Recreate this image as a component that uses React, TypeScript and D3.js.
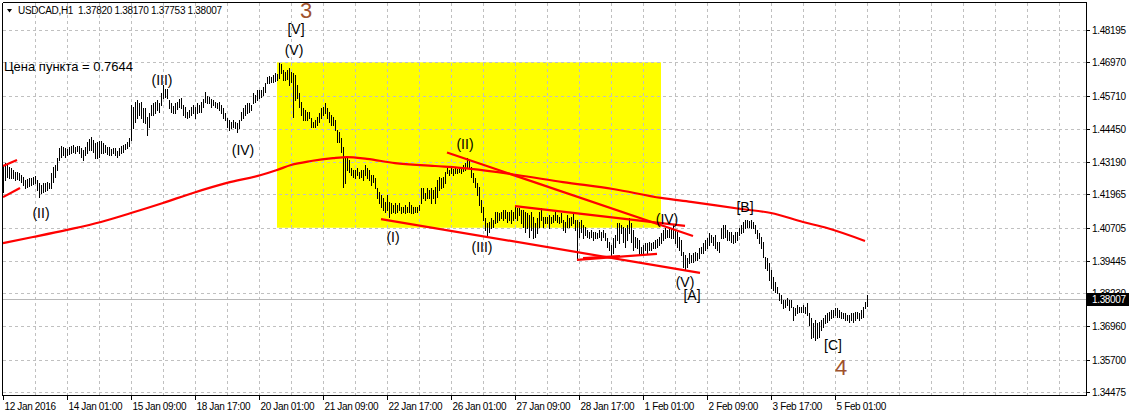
import React from 'react';
import * as d3 from 'd3';

const W = 1129;
const H = 416;

// Right price scale labels (top to bottom)
const priceTicks = [1.48195, 1.4697, 1.4571, 1.4445, 1.4319, 1.41965, 1.40705, 1.39445, 1.3823, 1.3696, 1.357, 1.34475];
const priceTickText = ['1.48195', '1.46970', '1.45710', '1.44450', '1.43190', '1.41965', '1.40705', '1.39445', '1.38230', '1.36960', '1.35700', '1.34475'];

// Time axis labels, one every 32 hourly bars
const timeLabels = ['12 Jan 2016', '14 Jan 01:00', '15 Jan 09:00', '18 Jan 17:00', '20 Jan 01:00', '21 Jan 09:00', '22 Jan 17:00', '26 Jan 01:00', '27 Jan 09:00', '28 Jan 17:00', '1 Feb 01:00', '2 Feb 09:00', '3 Feb 17:00', '5 Feb 01:00'];

const symbol = 'USDCAD,H1';
const lastOHLC = ['1.37820', '1.38170', '1.37753', '1.38007'];
const lastClose = 1.38007;
const pointValueText = 'Цена пункта = 0.7644';

// H1 bar highs
const highs = [
  1.4308, 1.4315, 1.4308, 1.4300, 1.4296, 1.4289, 1.4281, 1.4281, 1.4278, 1.4270,
  1.4262, 1.4251, 1.4255, 1.4259, 1.4259, 1.4262, 1.4266, 1.4251, 1.4240, 1.4232,
  1.4240, 1.4240, 1.4243, 1.4240, 1.4278, 1.4300, 1.4308, 1.4334, 1.4372, 1.4380,
  1.4376, 1.4372, 1.4368, 1.4376, 1.4380, 1.4384, 1.4376, 1.4380, 1.4380, 1.4372,
  1.4365, 1.4376, 1.4395, 1.4406, 1.4414, 1.4403, 1.4391, 1.4395, 1.4399, 1.4399,
  1.4391, 1.4384, 1.4376, 1.4376, 1.4368, 1.4372, 1.4372, 1.4361, 1.4372, 1.4380,
  1.4384, 1.4387, 1.4395, 1.4410, 1.4535, 1.4528, 1.4547, 1.4554, 1.4543, 1.4547,
  1.4524, 1.4524, 1.4490, 1.4505, 1.4535, 1.4543, 1.4547, 1.4554, 1.4543, 1.4581,
  1.4611, 1.4596, 1.4596, 1.4554, 1.4543, 1.4531, 1.4543, 1.4547, 1.4558, 1.4562,
  1.4535, 1.4528, 1.4509, 1.4516, 1.4528, 1.4535, 1.4528, 1.4543, 1.4535, 1.4547,
  1.4558, 1.4585, 1.4569, 1.4566, 1.4558, 1.4554, 1.4547, 1.4543, 1.4547, 1.4535,
  1.4524, 1.4505, 1.4486, 1.4478, 1.4471, 1.4478, 1.4471, 1.4467, 1.4478, 1.4509,
  1.4524, 1.4535, 1.4543, 1.4543, 1.4535, 1.4581, 1.4573, 1.4592, 1.4592, 1.4592,
  1.4603, 1.4619, 1.4641, 1.4645, 1.4641, 1.4649, 1.4657, 1.4653, 1.4694, 1.4691,
  1.4668, 1.4660, 1.4668, 1.4675, 1.4660, 1.4657, 1.4649, 1.4611, 1.4581, 1.4547,
  1.4524, 1.4516, 1.4509, 1.4509, 1.4486, 1.4471, 1.4478, 1.4490, 1.4505, 1.4524,
  1.4528, 1.4543, 1.4524, 1.4509, 1.4497, 1.4490, 1.4478, 1.4441, 1.4433, 1.4410,
  1.4376, 1.4338, 1.4334, 1.4327, 1.4296, 1.4289, 1.4289, 1.4296, 1.4281, 1.4289,
  1.4289, 1.4308, 1.4296, 1.4289, 1.4270, 1.4270, 1.4259, 1.4221, 1.4206, 1.4194,
  1.4183, 1.4168, 1.4194, 1.4168, 1.4164, 1.4156, 1.4164, 1.4156, 1.4164, 1.4149,
  1.4149, 1.4156, 1.4149, 1.4168, 1.4156, 1.4149, 1.4149, 1.4149, 1.4156, 1.4221,
  1.4221, 1.4202, 1.4221, 1.4213, 1.4221, 1.4213, 1.4224, 1.4251, 1.4262, 1.4259,
  1.4262, 1.4281, 1.4296, 1.4289, 1.4296, 1.4293, 1.4296, 1.4293, 1.4300, 1.4300,
  1.4308, 1.4315, 1.4334, 1.4327, 1.4300, 1.4278, 1.4259, 1.4240, 1.4224, 1.4175,
  1.4149, 1.4107, 1.4088, 1.4092, 1.4107, 1.4099, 1.4130, 1.4130, 1.4126, 1.4130,
  1.4137, 1.4137, 1.4130, 1.4130, 1.4137, 1.4130, 1.4149, 1.4145, 1.4145, 1.4137,
  1.4137, 1.4130, 1.4126, 1.4118, 1.4130, 1.4111, 1.4088, 1.4107, 1.4130, 1.4145,
  1.4111, 1.4111, 1.4111, 1.4118, 1.4111, 1.4118, 1.4130, 1.4118, 1.4111, 1.4126,
  1.4099, 1.4092, 1.4118, 1.4107, 1.4111, 1.4126, 1.4099, 1.4099, 1.4092, 1.4099,
  1.4080, 1.4073, 1.4062, 1.4054, 1.4062, 1.4054, 1.4054, 1.4050, 1.4062, 1.4054,
  1.4062, 1.4050, 1.4031, 1.4016, 1.4005, 1.4031, 1.4043, 1.4088, 1.4088, 1.4080,
  1.4073, 1.4069, 1.4080, 1.4107, 1.4088, 1.4062, 1.4035, 1.4031, 1.4024, 1.3997,
  1.4005, 1.4012, 1.4012, 1.4016, 1.4012, 1.4016, 1.4024, 1.4027, 1.4035, 1.4050,
  1.4062, 1.4069, 1.4062, 1.4073, 1.4069, 1.4080, 1.4062, 1.4054, 1.4035, 1.4024,
  1.3978, 1.3967, 1.3955, 1.3974, 1.3967, 1.3974, 1.3978, 1.3974, 1.3993, 1.3997,
  1.4012, 1.4024, 1.4031, 1.4050, 1.4043, 1.4035, 1.4043, 1.4016, 1.4016, 1.4069,
  1.4080, 1.4080, 1.4062, 1.4054, 1.4054, 1.4043, 1.4054, 1.4054, 1.4069, 1.4080,
  1.4092, 1.4099, 1.4099, 1.4096, 1.4099, 1.4092, 1.4080, 1.4062, 1.4050, 1.4035,
  1.4016, 1.3959, 1.3955, 1.3936, 1.3910, 1.3883, 1.3864, 1.3845, 1.3823, 1.3815,
  1.3796, 1.3796, 1.3804, 1.3796, 1.3796, 1.3770, 1.3766, 1.3777, 1.3770, 1.3770,
  1.3777, 1.3770, 1.3785, 1.3747, 1.3728, 1.3709, 1.3720, 1.3709, 1.3713, 1.3720,
  1.3728, 1.3739, 1.3747, 1.3751, 1.3758, 1.3758, 1.3766, 1.3766, 1.3758, 1.3751,
  1.3747, 1.3747, 1.3739, 1.3739, 1.3747, 1.3747, 1.3751, 1.3751, 1.3747, 1.3758,
  1.3770, 1.3790, 1.3817,
];

// H1 bar lows
const lows = [
  1.4206, 1.4251, 1.4262, 1.4259, 1.4259, 1.4259, 1.4251, 1.4255, 1.4251, 1.4243,
  1.4232, 1.4221, 1.4224, 1.4228, 1.4232, 1.4236, 1.4240, 1.4213, 1.4187, 1.4202,
  1.4206, 1.4209, 1.4213, 1.4221, 1.4221, 1.4243, 1.4262, 1.4289, 1.4327, 1.4338,
  1.4346, 1.4338, 1.4346, 1.4350, 1.4353, 1.4357, 1.4353, 1.4361, 1.4353, 1.4338,
  1.4327, 1.4346, 1.4353, 1.4365, 1.4365, 1.4357, 1.4334, 1.4334, 1.4338, 1.4353,
  1.4353, 1.4357, 1.4350, 1.4346, 1.4346, 1.4353, 1.4346, 1.4338, 1.4346, 1.4353,
  1.4357, 1.4368, 1.4372, 1.4380, 1.4403, 1.4448, 1.4471, 1.4486, 1.4497, 1.4486,
  1.4471, 1.4467, 1.4422, 1.4452, 1.4497, 1.4497, 1.4505, 1.4516, 1.4509, 1.4535,
  1.4562, 1.4566, 1.4562, 1.4524, 1.4509, 1.4505, 1.4505, 1.4520, 1.4528, 1.4524,
  1.4497, 1.4490, 1.4486, 1.4490, 1.4497, 1.4505, 1.4486, 1.4505, 1.4509, 1.4509,
  1.4528, 1.4547, 1.4543, 1.4543, 1.4528, 1.4535, 1.4528, 1.4524, 1.4516, 1.4505,
  1.4486, 1.4478, 1.4452, 1.4441, 1.4448, 1.4452, 1.4448, 1.4433, 1.4448, 1.4478,
  1.4486, 1.4497, 1.4505, 1.4509, 1.4516, 1.4543, 1.4547, 1.4554, 1.4562, 1.4566,
  1.4573, 1.4585, 1.4619, 1.4619, 1.4622, 1.4622, 1.4626, 1.4630, 1.4638, 1.4657,
  1.4630, 1.4630, 1.4634, 1.4611, 1.4622, 1.4490, 1.4554, 1.4562, 1.4528, 1.4497,
  1.4478, 1.4478, 1.4478, 1.4486, 1.4452, 1.4452, 1.4452, 1.4459, 1.4471, 1.4486,
  1.4497, 1.4505, 1.4486, 1.4471, 1.4459, 1.4459, 1.4441, 1.4395, 1.4395, 1.4357,
  1.4224, 1.4240, 1.4289, 1.4281, 1.4270, 1.4262, 1.4259, 1.4270, 1.4259, 1.4262,
  1.4251, 1.4270, 1.4259, 1.4251, 1.4232, 1.4243, 1.4221, 1.4183, 1.4164, 1.4149,
  1.4137, 1.4130, 1.4137, 1.4111, 1.4126, 1.4130, 1.4126, 1.4130, 1.4137, 1.4126,
  1.4130, 1.4126, 1.4130, 1.4130, 1.4126, 1.4126, 1.4130, 1.4130, 1.4137, 1.4164,
  1.4183, 1.4175, 1.4183, 1.4183, 1.4164, 1.4183, 1.4164, 1.4187, 1.4213, 1.4221,
  1.4224, 1.4240, 1.4278, 1.4270, 1.4278, 1.4270, 1.4278, 1.4278, 1.4281, 1.4278,
  1.4285, 1.4289, 1.4296, 1.4296, 1.4262, 1.4243, 1.4224, 1.4194, 1.4156, 1.4130,
  1.4099, 1.4062, 1.4043, 1.4054, 1.4069, 1.4073, 1.4088, 1.4092, 1.4099, 1.4107,
  1.4099, 1.4107, 1.4092, 1.4099, 1.4088, 1.4099, 1.4107, 1.4099, 1.4118, 1.4088,
  1.4073, 1.4054, 1.4069, 1.4035, 1.4062, 1.4031, 1.4035, 1.4050, 1.4073, 1.4099,
  1.4073, 1.4088, 1.4088, 1.4069, 1.4088, 1.4092, 1.4099, 1.4092, 1.4088, 1.4092,
  1.4062, 1.4054, 1.4073, 1.4073, 1.4080, 1.4088, 1.4062, 1.3948, 1.4035, 1.4054,
  1.4031, 1.4043, 1.4035, 1.4031, 1.4035, 1.4024, 1.4031, 1.4031, 1.4035, 1.4024,
  1.4035, 1.4024, 1.3997, 1.3986, 1.3967, 1.3974, 1.3997, 1.4024, 1.4012, 1.4050,
  1.4016, 1.3997, 1.4024, 1.4050, 1.4016, 1.3986, 1.3997, 1.3993, 1.3967, 1.3967,
  1.3974, 1.3986, 1.3974, 1.3986, 1.3986, 1.3993, 1.3993, 1.3997, 1.4005, 1.4012,
  1.4024, 1.4031, 1.4035, 1.4035, 1.4031, 1.4031, 1.4012, 1.3997, 1.3986, 1.3967,
  1.3921, 1.3910, 1.3921, 1.3936, 1.3940, 1.3940, 1.3948, 1.3948, 1.3955, 1.3974,
  1.3974, 1.3986, 1.3993, 1.4005, 1.4016, 1.4005, 1.3993, 1.3986, 1.3978, 1.4031,
  1.4031, 1.4035, 1.4024, 1.4024, 1.4016, 1.4012, 1.4016, 1.4024, 1.4043, 1.4050,
  1.4054, 1.4069, 1.4073, 1.4073, 1.4069, 1.4069, 1.4050, 1.4031, 1.4012, 1.3993,
  1.3959, 1.3917, 1.3910, 1.3872, 1.3842, 1.3834, 1.3827, 1.3823, 1.3796, 1.3785,
  1.3766, 1.3770, 1.3777, 1.3758, 1.3770, 1.3720, 1.3739, 1.3747, 1.3751, 1.3751,
  1.3751, 1.3747, 1.3739, 1.3701, 1.3652, 1.3656, 1.3645, 1.3652, 1.3656, 1.3683,
  1.3694, 1.3709, 1.3713, 1.3720, 1.3728, 1.3732, 1.3739, 1.3732, 1.3732, 1.3728,
  1.3728, 1.3720, 1.3720, 1.3713, 1.3720, 1.3713, 1.3720, 1.3728, 1.3720, 1.3728,
  1.3732, 1.3766, 1.37753,
];

// Moving average, sampled at bar indices
const maBars = [0, 15, 32, 49, 64, 80, 95, 112, 129, 137, 144, 154, 165, 172, 182, 196, 216, 234, 257, 280, 305, 329, 344, 369, 384, 400, 412, 431];
const maValues = [1.4012, 1.4035, 1.4062, 1.4092, 1.4126, 1.4164, 1.4202, 1.4240, 1.4270, 1.4289, 1.4308, 1.4323, 1.4334, 1.4338, 1.4331, 1.4315, 1.4304, 1.4293, 1.4270, 1.4243, 1.4217, 1.4183, 1.4168, 1.4141, 1.4126, 1.4092, 1.4069, 1.4020];

// Trend lines: [bar1, price1, bar2, price2]
const trendLines = [
  [0, 1.4304, 7, 1.4327],
  [0, 1.4186, 8.5, 1.4221],
  [189, 1.4103, 348.5, 1.3899],
  [222, 1.4355, 345, 1.4039],
  [256, 1.4152, 341, 1.4077],
  [287, 1.3948, 327, 1.3971],
  [290, 1.3955, 308.5, 1.3963],
];

// Highlighted zone: [bar1, price1, bar2, price2]
const zone = [137, 1.4697, 329, 1.4070];

// Wave labels: text, bar, price (baseline)
const waveText = ['[V]', '(V)', '(III)', '(IV)', '(II)', '(I)', '(II)', '(III)', '(IV)', '(V)', '[A]', '[B]', '[C]'];
const waveBar = [146.5, 145.5, 79.5, 120, 19, 195, 231, 239.5, 332, 341, 344.5, 371, 415];
const wavePrice = [1.4804, 1.4725, 1.4611, 1.4346, 1.4107, 1.4016, 1.4369, 1.3978, 1.4084, 1.3846, 1.3796, 1.4130, 1.3607];

// Higher-degree wave numbers
const degreeText = ['3', '4'];
const degreeBar = [151.5, 419];
const degreePrice = [1.4866, 1.3512];

const FONT = '"Liberation Sans", Arial, sans-serif';

export default function App() {
  const plotLeft = 2.5;
  const plotTop = 2.5;
  const plotRight = 1086.5;
  const plotBottom = 395.5;

  const y = d3.scaleLinear().domain([1.34475, 1.48195]).range([392, 30]);
  const x = d3.scaleLinear().domain([0, 1]).range([3, 5]);

  const barPath = highs
    .map((h, i) => {
      const xx = x(i) + 0.5;
      const y1 = Math.round(y(h));
      const y2 = Math.max(Math.round(y(lows[i])), y1 + 1);
      return `M${xx},${y1}V${y2 + 0.5}`;
    })
    .join('');

  const maLine = d3
    .line<number>()
    .x((_, i) => x(maBars[i]))
    .y((v) => y(v))
    .curve(d3.curveMonotoneX)(maValues) as string;

  const vGrid: number[] = [];
  for (let k = 16; x(k) < plotRight - 1; k += 16) vGrid.push(k);

  const closeY = y(lastClose);

  return (
    <svg
      width={W}
      height={H}
      viewBox={`0 0 ${W} ${H}`}
      style={{ position: 'absolute', left: 0, top: 0, background: '#fff' }}
      fontFamily={FONT}
    >
      <rect x={0} y={0} width={W} height={H} fill="#fff" />

      {/* highlighted zone */}
      <rect
        x={x(zone[0])}
        y={y(zone[1])}
        width={x(zone[2]) - x(zone[0])}
        height={y(zone[3]) - y(zone[1])}
        fill="#FFFF00"
      />

      {/* grid */}
      <g stroke="#C0C0C0" strokeWidth={1} strokeDasharray="3,3" shapeRendering="crispEdges">
        {priceTicks.map((p, i) => (
          <line key={`h${i}`} x1={plotLeft} x2={plotRight} y1={Math.round(y(p)) + 0.5} y2={Math.round(y(p)) + 0.5} />
        ))}
        {vGrid.map((k) => (
          <line key={`v${k}`} x1={x(k) + 0.5} x2={x(k) + 0.5} y1={plotTop} y2={plotBottom} />
        ))}
      </g>

      {/* last price line */}
      <line
        x1={plotLeft}
        x2={plotRight}
        y1={Math.round(closeY) + 0.5}
        y2={Math.round(closeY) + 0.5}
        stroke="#B8B8B8"
        strokeWidth={1}
        shapeRendering="crispEdges"
      />

      {/* bars */}
      <path d={barPath} stroke="#000" strokeWidth={1} fill="none" shapeRendering="crispEdges" />

      {/* moving average */}
      <path d={maLine} stroke="#FF0000" strokeWidth={2.2} fill="none" />

      {/* trend lines */}
      <g stroke="#FF0000" strokeWidth={2.2}>
        {trendLines.map((t, i) => (
          <line key={i} x1={x(t[0])} y1={y(t[1])} x2={x(t[2])} y2={y(t[3])} />
        ))}
      </g>

      {/* wave labels */}
      <g fontSize={14} fill="#000" textAnchor="middle">
        {waveText.map((t, i) => (
          <text key={i} x={x(waveBar[i])} y={y(wavePrice[i])}>
            {t}
          </text>
        ))}
      </g>
      <g fontSize={22} fill="#A0522D" textAnchor="middle">
        {degreeText.map((t, i) => (
          <text key={i} x={x(degreeBar[i])} y={y(degreePrice[i])}>
            {t}
          </text>
        ))}
      </g>

      {/* point value note */}
      <text x={4} y={71} fontSize={13} fill="#000">
        {pointValueText}
      </text>

      {/* header */}
      <path d="M7,9 L12,9 L9.5,12.5 Z" fill="#000" />
      <text x={18} y={14} fontSize={10} letterSpacing={-0.3} fill="#000" xmlSpace="preserve">
        {`${symbol}  ${lastOHLC.join(' ')}`}
      </text>

      {/* frame */}
      <g stroke="#000" strokeWidth={1} fill="none" shapeRendering="crispEdges">
        <line x1={plotLeft} x2={plotRight} y1={plotTop} y2={plotTop} />
        <line x1={plotLeft} x2={plotLeft} y1={plotTop} y2={plotBottom} />
        <line x1={plotLeft} x2={plotRight} y1={plotBottom} y2={plotBottom} />
        <line x1={plotRight} x2={plotRight} y1={plotTop} y2={plotBottom} />
      </g>

      {/* price axis */}
      <g fontSize={10} letterSpacing={-0.35} fill="#000">
        {priceTicks.map((p, i) => {
          const yy = Math.round(y(p)) + 0.5;
          return (
            <g key={i}>
              <line x1={plotRight} x2={plotRight + 3} y1={yy} y2={yy} stroke="#000" shapeRendering="crispEdges" />
              <text x={1092} y={yy + 3.5}>
                {priceTickText[i]}
              </text>
            </g>
          );
        })}
      </g>
      <rect x={1087} y={Math.round(closeY) - 6} width={42} height={13} fill="#000" />
      <text x={1092} y={Math.round(closeY) + 4} fontSize={10} letterSpacing={-0.35} fill="#fff">
        {lastClose.toFixed(5)}
      </text>

      {/* time axis */}
      <g fontSize={10} letterSpacing={-0.35} fill="#000">
        {timeLabels.map((t, i) => {
          const xx = x(i * 32) + 0.5;
          return (
            <g key={i}>
              <line x1={xx} x2={xx} y1={plotBottom} y2={plotBottom + 4} stroke="#000" shapeRendering="crispEdges" />
              <text x={xx + 1} y={410}>
                {t}
              </text>
            </g>
          );
        })}
      </g>
    </svg>
  );
}
